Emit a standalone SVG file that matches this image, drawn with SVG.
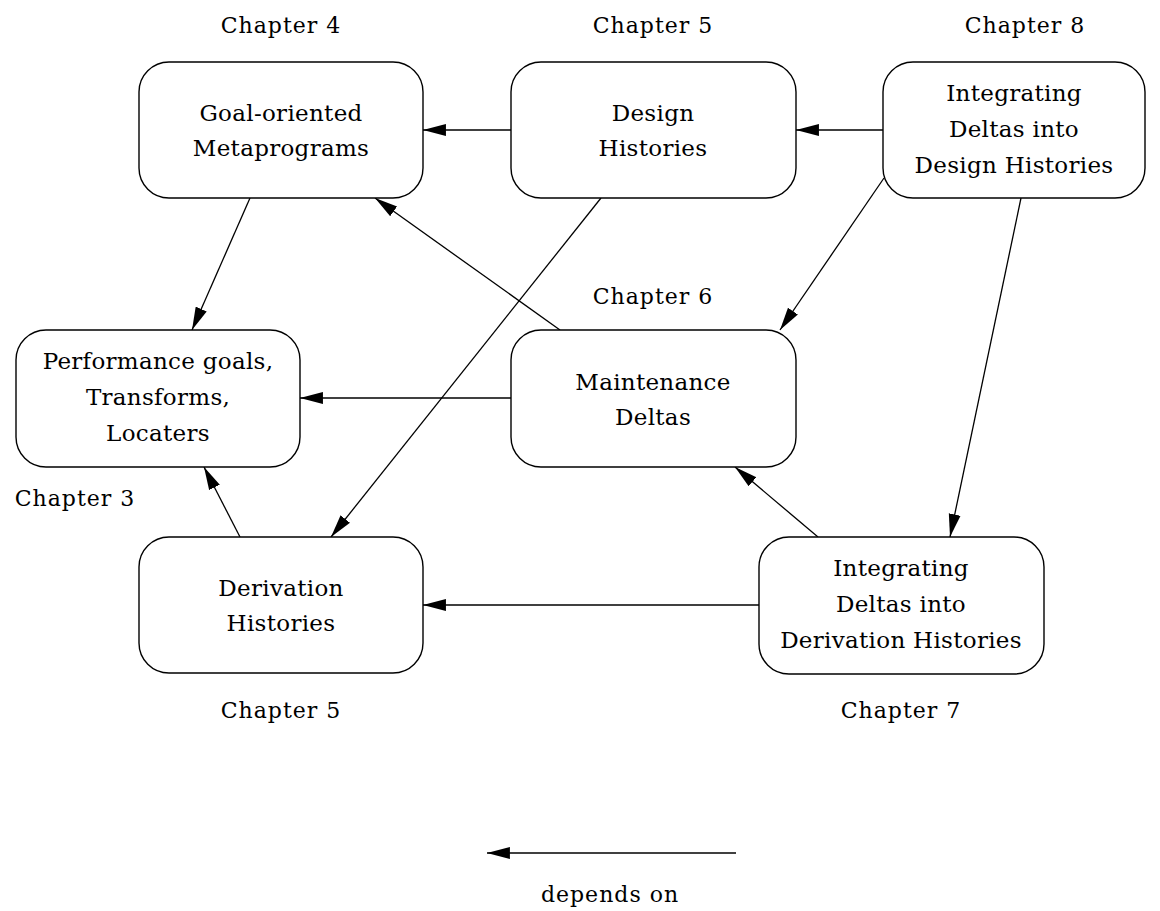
<svg xmlns="http://www.w3.org/2000/svg" width="1160" height="911" viewBox="0 0 1160 911">
  <style>
    .box { fill: #ffffff; stroke: #000000; stroke-width: 1.4; }
    .lbl { font-family: "DejaVu Serif", "Liberation Serif", serif; font-size: 23px; fill: #000000; text-anchor: middle; letter-spacing: 0.3px; }
    .chap { font-family: "DejaVu Serif", "Liberation Serif", serif; font-size: 22px; fill: #000000; text-anchor: middle; letter-spacing: 1px; }
    .edge { stroke: #000000; stroke-width: 1.3; fill: none; marker-end: url(#head); }
  </style>
  <defs>
    <marker id="head" markerUnits="userSpaceOnUse" markerWidth="24" markerHeight="14" refX="21" refY="6" orient="auto" viewBox="0 0 22 12">
      <path d="M21,6 L0,0.5 L0,11.5 Z" fill="#000000"/>
    </marker>
  </defs>

  <rect width="1160" height="911" fill="#ffffff"/>

  <!-- connectors -->
  <g id="edges">
    <line class="edge" x1="511" y1="130" x2="423" y2="130"/>
    <line class="edge" x1="883" y1="130" x2="796" y2="130"/>
    <line class="edge" x1="250" y1="198" x2="192" y2="330"/>
    <line class="edge" x1="560" y1="330" x2="375" y2="198"/>
    <line class="edge" x1="601" y1="198" x2="331" y2="537"/>
    <line class="edge" x1="884" y1="178" x2="780" y2="330"/>
    <line class="edge" x1="1021" y1="198" x2="950" y2="537"/>
    <line class="edge" x1="511" y1="398" x2="300" y2="398"/>
    <line class="edge" x1="240" y1="537" x2="204" y2="467"/>
    <line class="edge" x1="818" y1="537" x2="735" y2="467"/>
    <line class="edge" x1="759" y1="605" x2="423" y2="605"/>
  </g>

  <g id="goal-metaprograms">
    <rect class="box" x="139" y="62" width="284" height="136" rx="30" ry="30"/>
    <text class="lbl" x="281" y="121">Goal-oriented</text>
    <text class="lbl" x="281" y="156">Metaprograms</text>
    <text class="chap" x="281" y="33">Chapter 4</text>
  </g>

  <g id="design-histories">
    <rect class="box" x="511" y="62" width="285" height="136" rx="30" ry="30"/>
    <text class="lbl" x="653" y="121">Design</text>
    <text class="lbl" x="653" y="156">Histories</text>
    <text class="chap" x="653" y="33">Chapter 5</text>
  </g>

  <g id="integrating-design">
    <rect class="box" x="883" y="62" width="262" height="136" rx="30" ry="30"/>
    <text class="lbl" x="1014" y="101">Integrating</text>
    <text class="lbl" x="1014" y="137">Deltas into</text>
    <text class="lbl" x="1014" y="173">Design Histories</text>
    <text class="chap" x="1025" y="33">Chapter 8</text>
  </g>

  <g id="performance-goals">
    <rect class="box" x="16" y="330" width="284" height="137" rx="30" ry="30"/>
    <text class="lbl" x="158" y="369">Performance goals,</text>
    <text class="lbl" x="158" y="405">Transforms,</text>
    <text class="lbl" x="158" y="441">Locaters</text>
    <text class="chap" x="75" y="506">Chapter 3</text>
  </g>

  <g id="maintenance-deltas">
    <rect class="box" x="511" y="330" width="285" height="137" rx="30" ry="30"/>
    <text class="lbl" x="653" y="390">Maintenance</text>
    <text class="lbl" x="653" y="425">Deltas</text>
    <text class="chap" x="653" y="304">Chapter 6</text>
  </g>

  <g id="derivation-histories">
    <rect class="box" x="139" y="537" width="284" height="136" rx="30" ry="30"/>
    <text class="lbl" x="281" y="596">Derivation</text>
    <text class="lbl" x="281" y="631">Histories</text>
    <text class="chap" x="281" y="718">Chapter 5</text>
  </g>

  <g id="integrating-derivation">
    <rect class="box" x="759" y="537" width="285" height="137" rx="30" ry="30"/>
    <text class="lbl" x="901" y="576">Integrating</text>
    <text class="lbl" x="901" y="612">Deltas into</text>
    <text class="lbl" x="901" y="648">Derivation Histories</text>
    <text class="chap" x="901" y="718">Chapter 7</text>
  </g>

  <g id="legend">
    <line class="edge" x1="736" y1="853" x2="487" y2="853"/>
    <text class="chap" x="610" y="902">depends on</text>
  </g>
</svg>
